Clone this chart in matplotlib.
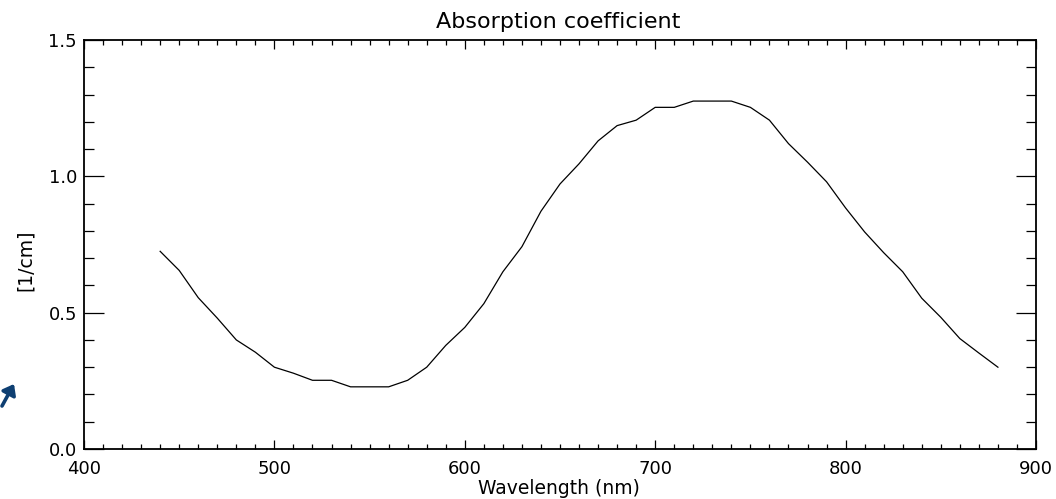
import matplotlib
matplotlib.use("Agg")
import matplotlib.pyplot as plt
from matplotlib.ticker import MultipleLocator

wavelength = [440, 450, 460, 470, 480, 490, 500, 510, 520, 530, 540, 550, 560,
              570, 580, 590, 600, 610, 620, 630, 640, 650, 660, 670, 680, 690,
              700, 710, 720, 730, 740, 750, 760, 770, 780, 790, 800, 810, 820,
              830, 840, 850, 860, 870, 880]
absorption = [0.725, 0.655, 0.555, 0.480, 0.400, 0.355, 0.300, 0.278, 0.252, 0.252,
              0.228, 0.228, 0.228, 0.252, 0.300, 0.380, 0.446, 0.533, 0.650, 0.742,
              0.872, 0.972, 1.046, 1.130, 1.186, 1.206, 1.253, 1.253, 1.276, 1.276,
              1.276, 1.253, 1.206, 1.120, 1.052, 0.980, 0.884, 0.796, 0.720, 0.650,
              0.553, 0.483, 0.405, 0.352, 0.300]

title = "Absorption coefficient"
xlabel = "Wavelength (nm)"
ylabel = "[1/cm]"

plt.rcParams['font.family'] = ['DejaVu Sans']

fig = plt.figure(figsize=(10.56, 4.99), dpi=100)
ax = fig.add_axes([84/1056, 50/499, 952/1056, 409/499])

ax.plot(wavelength, absorption, color='black', lw=0.9)

ax.set_xlim(400, 900)
ax.set_ylim(0, 1.5)
ax.xaxis.set_major_locator(MultipleLocator(100))
ax.xaxis.set_minor_locator(MultipleLocator(10))
ax.yaxis.set_major_locator(MultipleLocator(0.5))
ax.yaxis.set_minor_locator(MultipleLocator(0.1))
ax.yaxis.set_major_formatter(matplotlib.ticker.FormatStrFormatter('%.1f'))

ax.tick_params(axis='both', which='both', direction='in', top=True, right=True,
               width=0.9, color='black', labelsize=13)
ax.tick_params(axis='x', which='major', length=6.5, pad=8)
ax.tick_params(axis='x', which='minor', length=3.4)
ax.tick_params(axis='y', which='major', length=14.4, pad=5)
ax.tick_params(axis='y', which='minor', length=7.2)

for s in ax.spines.values():
    s.set_linewidth(1.3)

fig.text(558/1056, 1 - 22/499, title, ha='center', va='center', fontsize=16)
fig.text(559/1056, 1 - 488/499, xlabel, ha='center', va='center', fontsize=13.5)
fig.text(25/1056, 1 - 260/499, ylabel, ha='center', va='center', fontsize=13.5, rotation=90)

# blue cursor arrow at left edge
fig.add_artist(matplotlib.patches.FancyArrowPatch(
    (2/1056, 1 - 406/499), (14/1056, 1 - 384/499), transform=fig.transFigure,
    arrowstyle='-|>,head_length=0.42,head_width=0.32', color='#0e3f72', lw=2.6,
    mutation_scale=14, shrinkA=0, shrinkB=0))

fig.savefig("out.png", dpi=100)
